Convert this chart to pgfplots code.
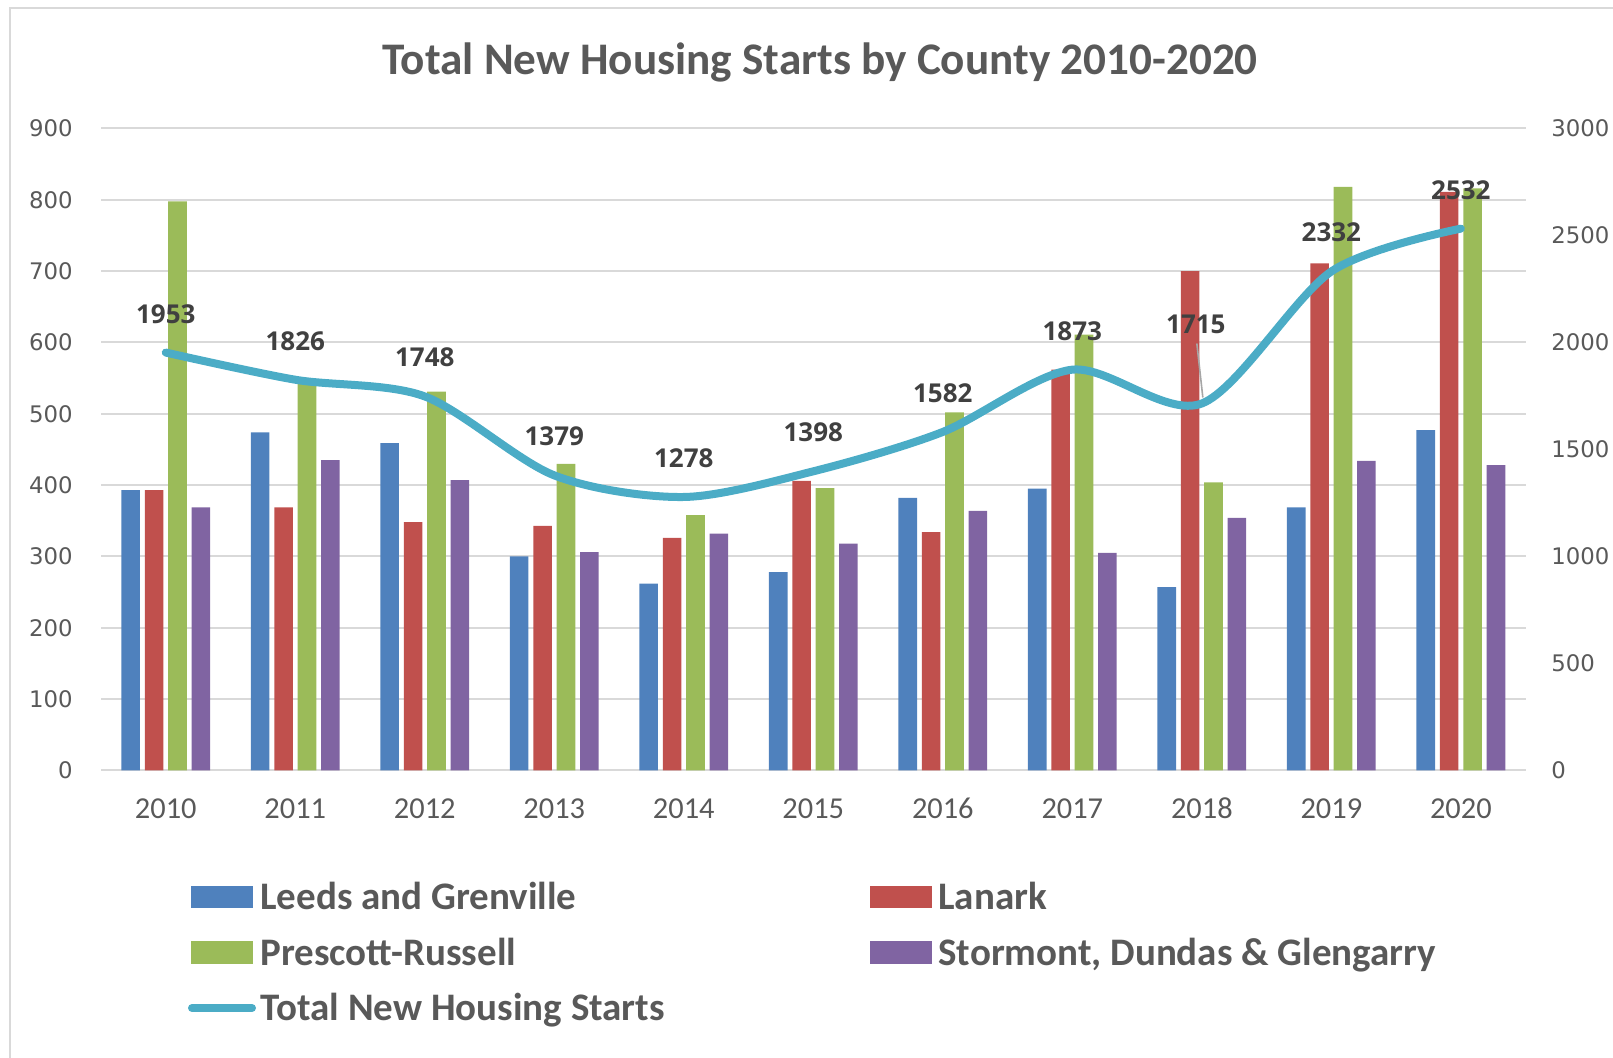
\documentclass[border=0pt]{standalone}
\usepackage{pgfplots}
\pgfplotsset{compat=1.18}
\usepackage{fontspec}
\setmainfont{Carlito}
\newfontfamily\osans{Open Sans}
\newfontfamily\dvs{DejaVu Sans}
\definecolor{cblue}{HTML}{4F81BD}
\definecolor{cred}{HTML}{C0504D}
\definecolor{cgreen}{HTML}{9BBB59}
\definecolor{cpurple}{HTML}{8064A2}
\definecolor{cline}{HTML}{4BACC6}
\definecolor{cgrid}{HTML}{D9D9D9}
\definecolor{ctxt}{HTML}{595959}
\definecolor{clab}{HTML}{404040}
\begin{document}
\begin{tikzpicture}
\useasboundingbox (0,0) rectangle (806.5pt,529pt);
\draw[cgrid, line width=1pt] (5pt,525pt) rectangle (820pt,-10pt);
\node[font=\fontsize{22.6}{26}\selectfont\bfseries, text=ctxt] at (410pt,498pt) {Total New Housing Starts by County 2010-2020};
\begin{axis}[
  at={(50.5pt,143.75pt)}, anchor=south west,
  scale only axis, width=712.3pt, height=321pt,
  xmin=-0.5, xmax=10.5, ymin=0, ymax=900,
  ybar=2.4pt, bar width=9.3pt,
  xtick={0,...,10},
  xticklabels={2010,2011,2012,2013,2014,2015,2016,2017,2018,2019,2020},
  ytick={0,100,...,900},
  ymajorgrids, grid style={cgrid, line width=1pt},
  axis line style={draw=none},
  major tick length=0pt,
  /pgf/number format/assume math mode=true,
  /pgf/number format/1000 sep={},
  xticklabel style={font=\fontsize{15.2}{18}\selectfont, text=ctxt, anchor=center, inner sep=0pt, yshift=-19pt},
  yticklabel style={font=\dvs\fontsize{11.4}{14}\selectfont, text=ctxt, anchor=east, inner sep=0pt, xshift=-14pt},
]
\addplot[fill=cblue, draw=none] coordinates {(0,393) (1,474) (2,459) (3,300) (4,262) (5,278) (6,382) (7,395) (8,257) (9,369) (10,477)};
\addplot[fill=cred, draw=none] coordinates {(0,393) (1,369) (2,348) (3,343) (4,326) (5,406) (6,334) (7,562) (8,700) (9,711) (10,811)};
\addplot[fill=cgreen, draw=none] coordinates {(0,798) (1,548) (2,531) (3,430) (4,358) (5,396) (6,502) (7,611) (8,404) (9,818) (10,816)};
\addplot[fill=cpurple, draw=none] coordinates {(0,369) (1,435) (2,407) (3,306) (4,332) (5,318) (6,364) (7,305) (8,354) (9,434) (10,428)};
\end{axis}
\begin{axis}[
  at={(50.5pt,143.75pt)}, anchor=south west,
  scale only axis, width=712.3pt, height=321pt,
  xmin=-0.5, xmax=10.5, ymin=0, ymax=3000,
  axis x line=none, axis y line*=right,
  axis line style={draw=none},
  ytick={0,500,...,3000},
  major tick length=0pt,
  clip=false,
  /pgf/number format/assume math mode=true,
  /pgf/number format/1000 sep={},
  yticklabel style={font=\dvs\fontsize{11.4}{14}\selectfont, text=ctxt, anchor=west, inner sep=0pt, xshift=12.7pt},
]
\addplot[cline, line width=4pt, smooth, mark=none, line cap=round,
  nodes near coords, point meta=explicit symbolic,
  every node near coord/.style={font=\osans\bfseries\fontsize{13}{15}\selectfont, text=clab, anchor=center, yshift=19.4pt}]
  coordinates {(0,1953)[1953] (1,1826)[1826] (2,1748)[1748] (3,1379)[1379] (4,1278)[1278] (5,1398)[1398] (6,1582)[1582] (7,1873)[1873] (8,1715)[] (9,2332)[2332] (10,2532)[2532]};
\draw[gray!70, line width=0.8pt] ([xshift=0.5pt,yshift=3pt]axis cs:8,1715) -- ([xshift=-2.5pt,yshift=30pt]axis cs:8,1715);
\addplot[draw=none, mark=none,
  nodes near coords, point meta=explicit symbolic,
  every node near coord/.style={font=\osans\bfseries\fontsize{13}{15}\selectfont, text=clab, anchor=center, xshift=-3pt, yshift=39.4pt}]
  coordinates {(8,1715)[1715]};
\end{axis}
% legend
\fill[cblue] (95.5pt,74.85pt) rectangle (126.5pt,86.15pt);
\node[anchor=base west, inner sep=0pt, font=\fontsize{19.5}{22}\selectfont\bfseries, text=ctxt] at (130pt,74.2pt) {Leeds and Grenville};
\fill[cred] (435pt,74.85pt) rectangle (466pt,86.15pt);
\node[anchor=base west, inner sep=0pt, font=\fontsize{19.5}{22}\selectfont\bfseries, text=ctxt] at (469pt,74.2pt) {Lanark};
\fill[cgreen] (95.5pt,47.05pt) rectangle (126.5pt,58.35pt);
\node[anchor=base west, inner sep=0pt, font=\fontsize{19.5}{22}\selectfont\bfseries, text=ctxt] at (130pt,46.4pt) {Prescott-Russell};
\fill[cpurple] (435pt,47.05pt) rectangle (466pt,58.35pt);
\node[anchor=base west, inner sep=0pt, font=\fontsize{19.5}{22}\selectfont\bfseries, text=ctxt] at (469pt,46.4pt) {Stormont, Dundas \& Glengarry};
\draw[cline, line width=4pt, line cap=round] (96pt,25pt) -- (126pt,25pt);
\node[anchor=base west, inner sep=0pt, font=\fontsize{19.5}{22}\selectfont\bfseries, text=ctxt] at (130pt,18.7pt) {Total New Housing Starts};
\end{tikzpicture}
\end{document}
